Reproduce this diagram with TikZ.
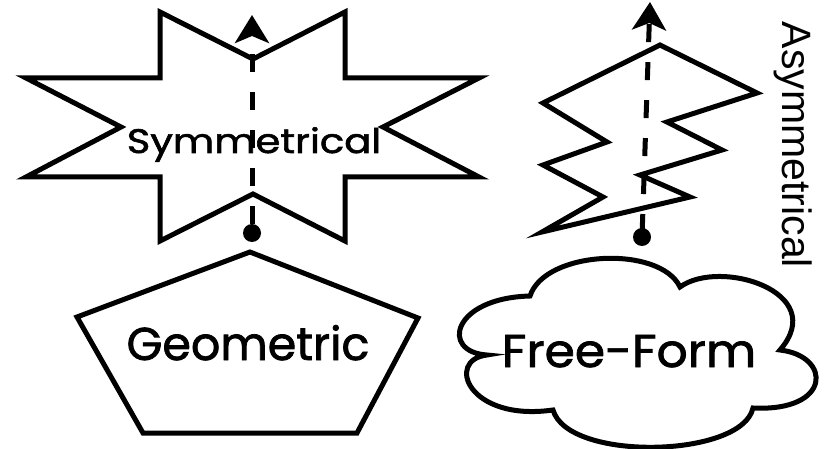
\documentclass[tikz,border=0pt]{standalone}
\usepackage{fontspec}
\setmainfont{Poppins}[FakeBold=1.6]
\newfontfamily\arialf{Liberation Sans}
\usetikzlibrary{arrows.meta}
\begin{document}
\begin{tikzpicture}[x=1pt,y=-1pt,
  outline/.style={draw=black, line width=5pt, line join=miter, miter limit=20},
  axisline/.style={line width=5pt, dash pattern=on 18pt off 20pt,
    -{Stealth[length=28pt,width=34pt,inset=7pt]}},
  dotend/.style={fill=black},
  comic/.style={inner sep=0pt, anchor=base, font=\fontsize{46}{50}\selectfont},
  comicsmall/.style={inner sep=0pt, anchor=base, font=\fontsize{34}{40}\selectfont},
  sidetext/.style={inner sep=0pt, anchor=base, rotate=-90, font=\arialf\fontsize{41}{46}\selectfont}
]
\useasboundingbox (0,0) rectangle (838,449);

% 8-point star
\draw[outline] (160,12) -- (253,59) -- (345,12) -- (345,78) -- (479,78) -- (383,127)
  -- (479,177) -- (345,177) -- (345,241) -- (253,194) -- (160,241) -- (160,177)
  -- (26,177) -- (121,127) -- (26,78) -- (160,78) -- cycle;
\node[comicsmall] (sym) at (254,153) {\scalebox{1.18}[1]{Symmetrical}};

% symmetry axis
\coordinate (s1) at (252,233);
\coordinate (e1) at (252,15);
\draw[axisline, dash phase=29pt] (s1) -- (e1);
\fill[dotend] (s1) circle (9);

% zigzag
\draw[outline] (660,45) -- (757,93) -- (667,122) -- (722,150) -- (640,175)
  -- (690,197) -- (542,232) -- (603,197) -- (543,165) -- (607,142) -- (543,103) -- cycle;

% asymmetry axis
\coordinate (s2) at (642,237);
\coordinate (e2) at (650,2);
\draw[axisline, dash phase=33pt] (s2) -- (e2);
\fill[dotend] (s2) circle (9);
\node[sidetext] (asym) at (782,145) {Asymmetrical};

% pentagon
\draw[outline] (250,252) -- (418,318) -- (357,433) -- (143,433) -- (77,317) -- cycle;
\node[comic] (geo) at (248,360) {Geometric};

% cloud
\draw[outline] (487,355) .. controls (440,352) and (452,298) .. (530,296)
  .. controls (545,250) and (660,245) .. (680,287)
  .. controls (720,258) and (830,292) .. (780,350)
  .. controls (832,356) and (832,412) .. (753,408)
  .. controls (742,458) and (568,462) .. (553,410)
  .. controls (468,422) and (445,360) .. (487,355) -- cycle;
\node[comic] (free) at (629,367) {\scalebox{1.06}[1]{Free-Form}};
\end{tikzpicture}
\end{document}
